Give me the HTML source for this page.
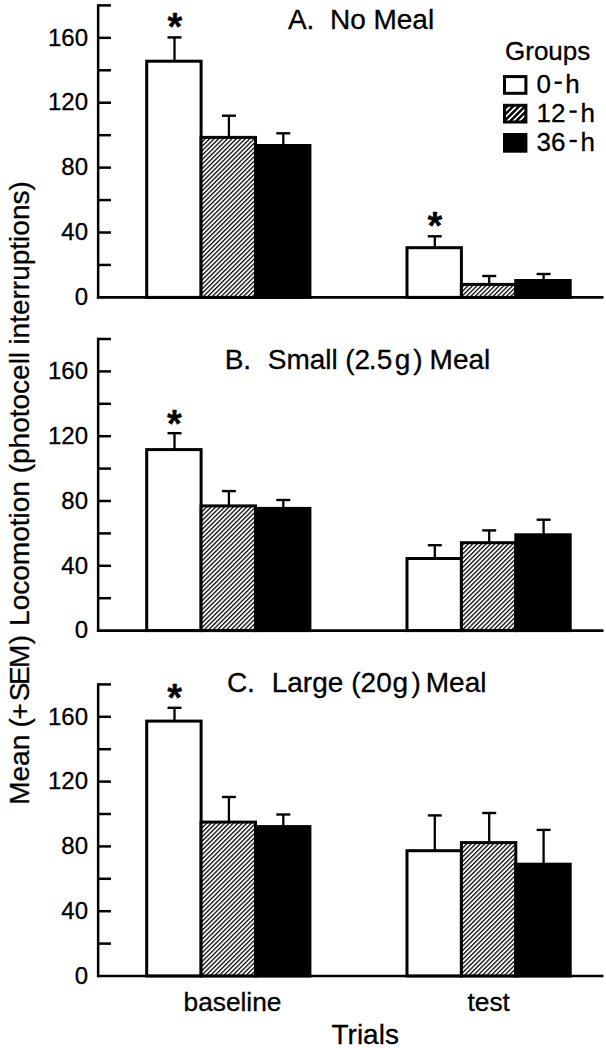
<!DOCTYPE html>
<html><head><meta charset="utf-8"><style>
html,body{margin:0;padding:0;background:#fff;}
svg{display:block;}
text{font-family:"Liberation Sans",sans-serif;fill:#000;stroke:#000;stroke-width:0.3px;}
.tk{font-size:24px;}
.ti{font-size:28px;}
.st{font-size:38px;font-weight:bold;}
.lg{font-size:26px;}
.xl{font-size:26.3px;}
</style></head><body>
<svg width="606" height="1050" viewBox="0 0 606 1050">
<defs>
<pattern id="hatch" patternUnits="userSpaceOnUse" width="3.15" height="10" patternTransform="rotate(45)">
<rect width="3.15" height="10" fill="#fff"/><rect width="1.25" height="10" fill="#000"/>
</pattern>
<pattern id="hatch2" patternUnits="userSpaceOnUse" width="4.2" height="10" patternTransform="rotate(45)">
<rect width="4.2" height="10" fill="#fff"/><rect width="2.5" height="10" fill="#000"/>
</pattern>
</defs>
<rect width="606" height="1050" fill="#fff"/>
<rect x="146.70" y="61.20" width="54.40" height="236.20" fill="#fff" stroke="#000" stroke-width="3"/>
<line x1="174.50" y1="61.20" x2="174.50" y2="37.40" stroke="#000" stroke-width="2.3"/>
<line x1="167.50" y1="37.40" x2="181.50" y2="37.40" stroke="#000" stroke-width="2.4"/>
<rect x="201.10" y="137.40" width="54.40" height="160.00" fill="url(#hatch)" stroke="#000" stroke-width="3"/>
<line x1="228.90" y1="137.40" x2="228.90" y2="115.70" stroke="#000" stroke-width="2.3"/>
<line x1="221.90" y1="115.70" x2="235.90" y2="115.70" stroke="#000" stroke-width="2.4"/>
<rect x="255.50" y="145.50" width="54.40" height="151.90" fill="#000" stroke="#000" stroke-width="3"/>
<line x1="283.30" y1="145.50" x2="283.30" y2="133.30" stroke="#000" stroke-width="2.3"/>
<line x1="276.30" y1="133.30" x2="290.30" y2="133.30" stroke="#000" stroke-width="2.4"/>
<rect x="407.00" y="247.70" width="54.40" height="49.70" fill="#fff" stroke="#000" stroke-width="3"/>
<line x1="434.80" y1="247.70" x2="434.80" y2="236.30" stroke="#000" stroke-width="2.3"/>
<line x1="427.80" y1="236.30" x2="441.80" y2="236.30" stroke="#000" stroke-width="2.4"/>
<rect x="461.40" y="284.40" width="54.40" height="13.00" fill="url(#hatch)" stroke="#000" stroke-width="3"/>
<line x1="489.20" y1="284.40" x2="489.20" y2="276.00" stroke="#000" stroke-width="2.3"/>
<line x1="482.20" y1="276.00" x2="496.20" y2="276.00" stroke="#000" stroke-width="2.4"/>
<rect x="515.80" y="280.50" width="54.40" height="16.90" fill="#000" stroke="#000" stroke-width="3"/>
<line x1="543.60" y1="280.50" x2="543.60" y2="274.00" stroke="#000" stroke-width="2.3"/>
<line x1="536.60" y1="274.00" x2="550.60" y2="274.00" stroke="#000" stroke-width="2.4"/>
<line x1="98.15" y1="4.15" x2="98.15" y2="298.65" stroke="#000" stroke-width="2.5"/>
<line x1="96.90" y1="297.40" x2="603.5" y2="297.40" stroke="#000" stroke-width="2.6"/>
<line x1="98.15" y1="264.96" x2="111" y2="264.96" stroke="#000" stroke-width="2.5"/>
<line x1="98.15" y1="232.51" x2="111" y2="232.51" stroke="#000" stroke-width="2.5"/>
<line x1="98.15" y1="200.07" x2="111" y2="200.07" stroke="#000" stroke-width="2.5"/>
<line x1="98.15" y1="167.62" x2="111" y2="167.62" stroke="#000" stroke-width="2.5"/>
<line x1="98.15" y1="135.18" x2="111" y2="135.18" stroke="#000" stroke-width="2.5"/>
<line x1="98.15" y1="102.73" x2="111" y2="102.73" stroke="#000" stroke-width="2.5"/>
<line x1="98.15" y1="70.29" x2="111" y2="70.29" stroke="#000" stroke-width="2.5"/>
<line x1="98.15" y1="37.84" x2="111" y2="37.84" stroke="#000" stroke-width="2.5"/>
<line x1="98.15" y1="5.40" x2="111" y2="5.40" stroke="#000" stroke-width="2.5"/>
<text x="88" y="305.10" class="tk" text-anchor="end">0</text>
<text x="88" y="240.21" class="tk" text-anchor="end">40</text>
<text x="88" y="175.32" class="tk" text-anchor="end">80</text>
<text x="88" y="110.43" class="tk" text-anchor="end">120</text>
<text x="88" y="45.54" class="tk" text-anchor="end">160</text>
<text x="287.90" y="29.00" class="ti">A.&#160;&#160;No Meal</text>
<text x="174.90" y="39.90" class="st" text-anchor="middle">*</text>
<text x="435.00" y="239.10" class="st" text-anchor="middle">*</text>
<rect x="146.70" y="449.60" width="54.40" height="181.00" fill="#fff" stroke="#000" stroke-width="3"/>
<line x1="174.50" y1="449.60" x2="174.50" y2="433.20" stroke="#000" stroke-width="2.3"/>
<line x1="167.50" y1="433.20" x2="181.50" y2="433.20" stroke="#000" stroke-width="2.4"/>
<rect x="201.10" y="505.90" width="54.40" height="124.70" fill="url(#hatch)" stroke="#000" stroke-width="3"/>
<line x1="228.90" y1="505.90" x2="228.90" y2="491.10" stroke="#000" stroke-width="2.3"/>
<line x1="221.90" y1="491.10" x2="235.90" y2="491.10" stroke="#000" stroke-width="2.4"/>
<rect x="255.50" y="508.40" width="54.40" height="122.20" fill="#000" stroke="#000" stroke-width="3"/>
<line x1="283.30" y1="508.40" x2="283.30" y2="500.00" stroke="#000" stroke-width="2.3"/>
<line x1="276.30" y1="500.00" x2="290.30" y2="500.00" stroke="#000" stroke-width="2.4"/>
<rect x="407.00" y="558.50" width="54.40" height="72.10" fill="#fff" stroke="#000" stroke-width="3"/>
<line x1="434.80" y1="558.50" x2="434.80" y2="545.20" stroke="#000" stroke-width="2.3"/>
<line x1="427.80" y1="545.20" x2="441.80" y2="545.20" stroke="#000" stroke-width="2.4"/>
<rect x="461.40" y="542.70" width="54.40" height="87.90" fill="url(#hatch)" stroke="#000" stroke-width="3"/>
<line x1="489.20" y1="542.70" x2="489.20" y2="530.40" stroke="#000" stroke-width="2.3"/>
<line x1="482.20" y1="530.40" x2="496.20" y2="530.40" stroke="#000" stroke-width="2.4"/>
<rect x="515.80" y="534.80" width="54.40" height="95.80" fill="#000" stroke="#000" stroke-width="3"/>
<line x1="543.60" y1="534.80" x2="543.60" y2="519.70" stroke="#000" stroke-width="2.3"/>
<line x1="536.60" y1="519.70" x2="550.60" y2="519.70" stroke="#000" stroke-width="2.4"/>
<line x1="98.15" y1="337.75" x2="98.15" y2="631.85" stroke="#000" stroke-width="2.5"/>
<line x1="96.90" y1="630.60" x2="603.5" y2="630.60" stroke="#000" stroke-width="2.6"/>
<line x1="98.15" y1="598.20" x2="111" y2="598.20" stroke="#000" stroke-width="2.5"/>
<line x1="98.15" y1="565.80" x2="111" y2="565.80" stroke="#000" stroke-width="2.5"/>
<line x1="98.15" y1="533.40" x2="111" y2="533.40" stroke="#000" stroke-width="2.5"/>
<line x1="98.15" y1="501.00" x2="111" y2="501.00" stroke="#000" stroke-width="2.5"/>
<line x1="98.15" y1="468.60" x2="111" y2="468.60" stroke="#000" stroke-width="2.5"/>
<line x1="98.15" y1="436.20" x2="111" y2="436.20" stroke="#000" stroke-width="2.5"/>
<line x1="98.15" y1="403.80" x2="111" y2="403.80" stroke="#000" stroke-width="2.5"/>
<line x1="98.15" y1="371.40" x2="111" y2="371.40" stroke="#000" stroke-width="2.5"/>
<line x1="98.15" y1="339.00" x2="111" y2="339.00" stroke="#000" stroke-width="2.5"/>
<text x="88" y="638.30" class="tk" text-anchor="end">0</text>
<text x="88" y="573.50" class="tk" text-anchor="end">40</text>
<text x="88" y="508.70" class="tk" text-anchor="end">80</text>
<text x="88" y="443.90" class="tk" text-anchor="end">120</text>
<text x="88" y="379.10" class="tk" text-anchor="end">160</text>
<text x="226.60" y="369.30" class="ti"><tspan x="224.7">B.</tspan><tspan x="267.8">Small</tspan><tspan x="345.2">(2</tspan><tspan x="368.7">.</tspan><tspan x="376.8">5</tspan><tspan x="394.7">g</tspan><tspan x="413.3">)</tspan><tspan x="429.6">Meal</tspan></text>
<text x="174.40" y="436.70" class="st" text-anchor="middle">*</text>
<rect x="146.70" y="721.10" width="54.40" height="254.90" fill="#fff" stroke="#000" stroke-width="3"/>
<line x1="174.50" y1="721.10" x2="174.50" y2="707.80" stroke="#000" stroke-width="2.3"/>
<line x1="167.50" y1="707.80" x2="181.50" y2="707.80" stroke="#000" stroke-width="2.4"/>
<rect x="201.10" y="822.10" width="54.40" height="153.90" fill="url(#hatch)" stroke="#000" stroke-width="3"/>
<line x1="228.90" y1="822.10" x2="228.90" y2="797.00" stroke="#000" stroke-width="2.3"/>
<line x1="221.90" y1="797.00" x2="235.90" y2="797.00" stroke="#000" stroke-width="2.4"/>
<rect x="255.50" y="826.60" width="54.40" height="149.40" fill="#000" stroke="#000" stroke-width="3"/>
<line x1="283.30" y1="826.60" x2="283.30" y2="814.50" stroke="#000" stroke-width="2.3"/>
<line x1="276.30" y1="814.50" x2="290.30" y2="814.50" stroke="#000" stroke-width="2.4"/>
<rect x="407.00" y="850.70" width="54.40" height="125.30" fill="#fff" stroke="#000" stroke-width="3"/>
<line x1="434.80" y1="850.70" x2="434.80" y2="815.40" stroke="#000" stroke-width="2.3"/>
<line x1="427.80" y1="815.40" x2="441.80" y2="815.40" stroke="#000" stroke-width="2.4"/>
<rect x="461.40" y="842.60" width="54.40" height="133.40" fill="url(#hatch)" stroke="#000" stroke-width="3"/>
<line x1="489.20" y1="842.60" x2="489.20" y2="813.00" stroke="#000" stroke-width="2.3"/>
<line x1="482.20" y1="813.00" x2="496.20" y2="813.00" stroke="#000" stroke-width="2.4"/>
<rect x="515.80" y="864.20" width="54.40" height="111.80" fill="#000" stroke="#000" stroke-width="3"/>
<line x1="543.60" y1="864.20" x2="543.60" y2="829.90" stroke="#000" stroke-width="2.3"/>
<line x1="536.60" y1="829.90" x2="550.60" y2="829.90" stroke="#000" stroke-width="2.4"/>
<line x1="98.15" y1="683.15" x2="98.15" y2="977.25" stroke="#000" stroke-width="2.5"/>
<line x1="96.90" y1="976.00" x2="603.5" y2="976.00" stroke="#000" stroke-width="2.6"/>
<line x1="98.15" y1="943.60" x2="111" y2="943.60" stroke="#000" stroke-width="2.5"/>
<line x1="98.15" y1="911.20" x2="111" y2="911.20" stroke="#000" stroke-width="2.5"/>
<line x1="98.15" y1="878.80" x2="111" y2="878.80" stroke="#000" stroke-width="2.5"/>
<line x1="98.15" y1="846.40" x2="111" y2="846.40" stroke="#000" stroke-width="2.5"/>
<line x1="98.15" y1="814.00" x2="111" y2="814.00" stroke="#000" stroke-width="2.5"/>
<line x1="98.15" y1="781.60" x2="111" y2="781.60" stroke="#000" stroke-width="2.5"/>
<line x1="98.15" y1="749.20" x2="111" y2="749.20" stroke="#000" stroke-width="2.5"/>
<line x1="98.15" y1="716.80" x2="111" y2="716.80" stroke="#000" stroke-width="2.5"/>
<line x1="98.15" y1="684.40" x2="111" y2="684.40" stroke="#000" stroke-width="2.5"/>
<text x="88" y="983.70" class="tk" text-anchor="end">0</text>
<text x="88" y="918.90" class="tk" text-anchor="end">40</text>
<text x="88" y="854.10" class="tk" text-anchor="end">80</text>
<text x="88" y="789.30" class="tk" text-anchor="end">120</text>
<text x="88" y="724.50" class="tk" text-anchor="end">160</text>
<text x="227.70" y="692.00" class="ti"><tspan x="226.9">C.</tspan><tspan x="271.7">Large</tspan><tspan x="351.3">(20</tspan><tspan x="392.6">g</tspan><tspan x="411.5">)</tspan><tspan x="425.8">Meal</tspan></text>
<text x="174.70" y="711.00" class="st" text-anchor="middle">*</text>
<!-- legend -->
<text x="505" y="59.8" class="lg">Groups</text>
<rect x="504.5" y="76.6" width="21.4" height="16.7" fill="#fff" stroke="#000" stroke-width="3"/>
<rect x="504.5" y="105.3" width="21.4" height="16.7" fill="url(#hatch2)" stroke="#000" stroke-width="3"/>
<rect x="504.5" y="134.5" width="21.4" height="16.7" fill="#000" stroke="#000" stroke-width="3"/>
<text y="92.5" class="lg"><tspan x="536.5">0</tspan><tspan x="565.2">h</tspan></text>
<rect x="554.6" y="81.5" width="7.2" height="2.4" fill="#000"/>
<text y="121.7" class="lg"><tspan x="536.5">12</tspan><tspan x="580.5">h</tspan></text>
<rect x="569.6" y="110.4" width="7.1" height="2.4" fill="#000"/>
<text y="151.0" class="lg"><tspan x="536.5">36</tspan><tspan x="580.5">h</tspan></text>
<rect x="569.6" y="139.8" width="7.2" height="2.4" fill="#000"/>
<!-- x labels -->
<text x="183.5" y="1011.2" class="xl">baseline</text>
<text x="467.5" y="1010.7" class="xl">test</text>
<text x="331.5" y="1043.6" class="ti">Trials</text>
<!-- y title -->
<text transform="translate(29.3,805) rotate(-90)" y="0" class="ti"><tspan x="0.2">Mean</tspan><tspan x="77.6">(</tspan><tspan x="85.4">+</tspan><tspan x="103.7">S</tspan><tspan x="119.9">E</tspan><tspan x="137">M</tspan><tspan x="160.8">)</tspan><tspan x="179.1">Locomotion</tspan><tspan x="331.7">(photocell</tspan><tspan x="460.4">interruptions)</tspan></text>
</svg>
</body></html>
